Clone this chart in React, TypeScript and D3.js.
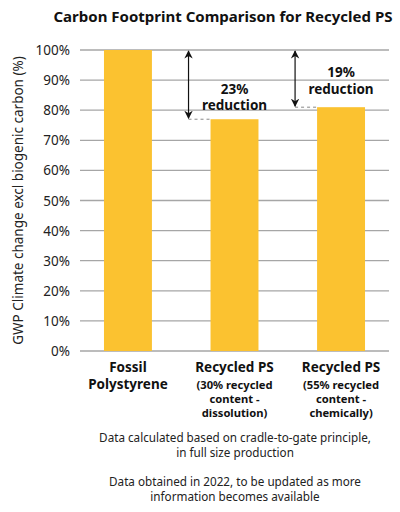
import React, { useEffect, useRef } from "react";
import * as d3 from "d3";

const categories = ["Fossil PS", "Recycled PS 30", "Recycled PS 55"];
const values = [100, 77, 81];
const reductions = ["23%", "19%"];
const reductionLabelAt = [85.4, 90.9]; // label baseline, in % units
const yTicks = [0, 10, 20, 30, 40, 50, 60, 70, 80, 90, 100];
const catLabels = [
  ["Fossil", "Polystyrene"],
  ["Recycled PS"],
  ["Recycled PS"],
];
const catSubLabels = [
  [],
  ["(30% recycled", "content -", "dissolution)"],
  ["(55% recycled", "content -", "chemically)"],
];
const notes = [
  ["Data calculated based on cradle-to-gate principle,", "in full size production"],
  ["Data obtained in 2022, to be updated as more", "information becomes available"],
];

const FONT = "'Noto Sans', 'Open Sans', sans-serif";

export default function App() {
  const ref = useRef<SVGSVGElement>(null);

  useEffect(() => {
    const svg = d3.select(ref.current);
    svg.selectAll("*").remove();

    // plot area
    const left = 80,
      right = 389,
      top = 50,
      bottom = 351;

    const x = d3.scaleBand().domain(categories).range([left, right]).paddingInner(0.55).paddingOuter(0.225);
    const y = d3.scaleLinear().domain([0, 100]).range([bottom, top]);

    const defs = svg.append("defs");
    defs
      .append("marker")
      .attr("id", "arrowhead")
      .attr("viewBox", "0 0 10 10")
      .attr("refX", 9)
      .attr("refY", 5)
      .attr("markerWidth", 7)
      .attr("markerHeight", 8)
      .attr("orient", "auto-start-reverse")
      .append("path")
      .attr("d", "M0,0 L10,5 L0,10 L3,5 Z")
      .attr("fill", "#111");

    // title
    svg
      .append("text")
      .attr("x", 223)
      .attr("y", 22)
      .attr("text-anchor", "middle")
      .style("font-family", FONT)
      .style("font-weight", "bold")
      .style("font-size", "15px")
      .attr("fill", "#111")
      .text("Carbon Footprint Comparison for Recycled PS");

    // gridlines
    svg
      .append("g")
      .selectAll("line")
      .data(yTicks)
      .enter()
      .append("line")
      .attr("x1", left)
      .attr("x2", right)
      .attr("y1", (d) => y(d))
      .attr("y2", (d) => y(d))
      .attr("stroke", "#a6a6a6")
      .attr("stroke-width", 1.3);

    // y tick labels
    svg
      .append("g")
      .selectAll("text")
      .data(yTicks)
      .enter()
      .append("text")
      .attr("x", 70)
      .attr("y", (d) => y(d) + 5)
      .attr("text-anchor", "end")
      .style("font-family", FONT)
      .style("font-size", "13.5px")
      .attr("fill", "#222")
      .text((d) => d + "%");

    // y axis label
    svg
      .append("text")
      .attr("transform", "translate(23," + (top + bottom) / 2 + ") rotate(-90)")
      .attr("text-anchor", "middle")
      .style("font-family", FONT)
      .style("font-size", "13.5px")
      .attr("fill", "#222")
      .text("GWP Climate change excl biogenic carbon (%)");

    // bars
    svg
      .append("g")
      .selectAll("rect")
      .data(values)
      .enter()
      .append("rect")
      .attr("x", (d, i) => x(categories[i]) as number)
      .attr("y", (d) => y(d))
      .attr("width", x.bandwidth())
      .attr("height", (d) => y(0) - y(d))
      .attr("fill", "#fbc230");

    // reduction arrows, dashed connectors and labels
    const annos = [1, 2];
    annos.forEach((idx, k) => {
      const bx = x(categories[idx]) as number;
      const ax = bx - 22;
      const v = values[idx];
      svg
        .append("line")
        .attr("x1", ax)
        .attr("x2", bx)
        .attr("y1", y(v))
        .attr("y2", y(v))
        .attr("stroke", "#888")
        .attr("stroke-width", 1)
        .attr("stroke-dasharray", "3,3");
      svg
        .append("line")
        .attr("x1", ax)
        .attr("x2", ax)
        .attr("y1", y(100) + 1)
        .attr("y2", y(v) - 1)
        .attr("stroke", "#111")
        .attr("stroke-width", 1.2)
        .attr("marker-start", "url(#arrowhead)")
        .attr("marker-end", "url(#arrowhead)");
      const cx = bx + x.bandwidth() / 2;
      const ly = y(reductionLabelAt[k]);
      svg
        .append("text")
        .attr("x", cx)
        .attr("y", ly)
        .attr("text-anchor", "middle")
        .style("font-family", FONT)
        .style("font-weight", "bold")
        .style("font-size", "13.5px")
        .attr("fill", "#111")
        .text(reductions[k]);
      svg
        .append("text")
        .attr("x", cx)
        .attr("y", ly + 16.5)
        .attr("text-anchor", "middle")
        .style("font-family", FONT)
        .style("font-weight", "bold")
        .style("font-size", "13.5px")
        .attr("fill", "#111")
        .text("reduction");
    });

    // category labels
    categories.forEach((c, i) => {
      const cx = (x(c) as number) + x.bandwidth() / 2;
      catLabels[i].forEach((line, j) => {
        svg
          .append("text")
          .attr("x", cx)
          .attr("y", 372 + j * 17)
          .attr("text-anchor", "middle")
          .style("font-family", FONT)
          .style("font-weight", "bold")
          .style("font-size", "13.5px")
          .attr("fill", "#111")
          .text(line);
      });
      catSubLabels[i].forEach((line, j) => {
        svg
          .append("text")
          .attr("x", cx)
          .attr("y", 389 + j * 13.8)
          .attr("text-anchor", "middle")
          .style("font-family", FONT)
          .style("font-weight", "bold")
          .style("font-size", "11.2px")
          .attr("fill", "#111")
          .text(line);
      });
    });

    // footnotes
    notes.forEach((block, b) => {
      block.forEach((line, j) => {
        svg
          .append("text")
          .attr("x", 235)
          .attr("y", 442 + b * 43.5 + j * 15.3)
          .attr("text-anchor", "middle")
          .style("font-family", FONT)
          .style("font-size", "11.7px")
          .attr("fill", "#222")
          .text(line);
      });
    });
  }, []);

  return (
    <svg
      ref={ref}
      width={400}
      height={512}
      style={{ position: "absolute", left: 0, top: 0, background: "#fff" }}
    />
  );
}
